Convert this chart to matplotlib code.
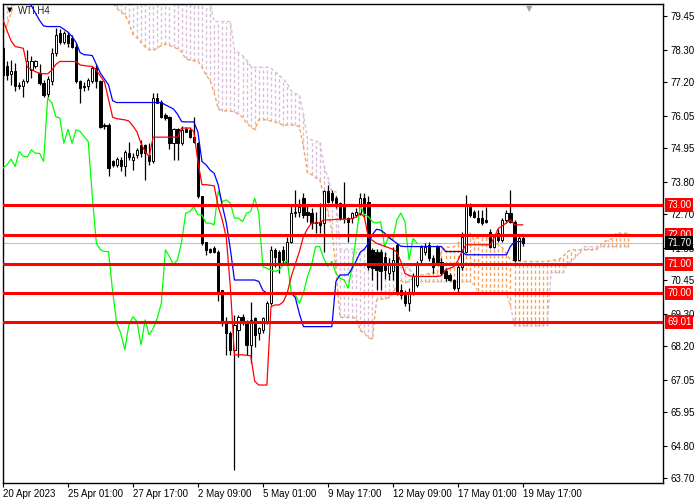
import numpy as np
import matplotlib
matplotlib.use("Agg")
import matplotlib.pyplot as plt
from matplotlib.transforms import blended_transform_factory

plt.rcParams['font.family'] = ['Liberation Sans', 'DejaVu Sans']

# ---------------- data ----------------
symbol_label = "WTI,H4"
time_labels = ["20 Apr 2023", "25 Apr 01:00", "27 Apr 17:00", "2 May 09:00", "5 May 01:00",
               "9 May 17:00", "12 May 09:00", "17 May 01:00", "19 May 17:00"]
time_label_bars = [0, 16, 32, 48, 64, 80, 96, 112, 128]
price_ticks = [79.45, 78.30, 77.20, 76.05, 74.95, 73.80, 72.70, 71.55, 70.45,
               69.30, 68.20, 67.05, 65.95, 64.80, 63.70]
levels = [73.00, 72.00, 71.00, 70.00, 69.01]
last_price = 71.70

opens = [78.35, 77.73, 77.48, 77.56, 77.05, 77.07, 77.22, 77.61, 77.73, 77.50,
         77.16, 76.80, 77.22, 78.18, 78.86, 78.58, 78.80, 78.70, 78.40, 77.22,
         77.05, 77.05, 77.22, 77.67, 77.22, 75.74, 75.74, 74.49, 74.38, 74.55,
         74.32, 74.77, 74.55, 74.72, 75.06, 75.06, 74.72, 74.49, 76.65, 76.53,
         76.08, 76.02, 75.11, 75.59, 75.11, 75.59, 75.55, 75.34, 75.11, 73.30,
         71.73, 71.50, 71.53, 71.42, 70.12, 68.98, 68.64, 68.07, 68.75, 69.20,
         69.03, 68.24, 69.15, 68.64, 68.75, 69.00, 69.66, 71.48, 71.42, 71.48,
         71.02, 71.76, 72.73, 72.78, 73.24, 72.78, 72.73, 72.44, 72.44, 72.39,
         73.47, 73.41, 73.24, 73.07, 73.00, 72.56, 72.56, 72.67, 72.73, 73.24,
         73.12, 71.48, 71.42, 71.42, 71.25, 70.68, 70.74, 71.65, 70.12, 70.00,
         69.66, 70.00, 70.28, 71.14, 71.42, 71.65, 71.19, 71.59, 71.08, 70.74,
         70.62, 70.45, 70.17, 70.91, 71.42, 73.00, 72.78, 72.56, 72.56, 72.50,
         72.10, 71.59, 72.05, 71.82, 72.50, 72.73, 72.44, 71.14, 71.87]
highs = [78.60, 77.90, 77.95, 77.84, 77.20, 77.30, 78.30, 78.10, 77.95, 77.80,
         77.27, 77.40, 78.35, 79.03, 79.00, 78.95, 78.90, 78.80, 78.52, 77.27,
         77.20, 77.33, 77.73, 77.78, 77.27, 75.80, 75.80, 74.55, 74.65, 74.66,
         74.89, 75.17, 74.77, 74.95, 75.23, 75.10, 75.12, 76.82, 76.82, 76.60,
         76.15, 76.05, 75.63, 75.63, 75.70, 75.68, 75.68, 76.02, 75.17, 73.32,
         71.76, 71.55, 71.60, 71.48, 70.12, 69.20, 68.70, 69.26, 69.26, 69.30,
         69.10, 69.71, 69.20, 68.86, 69.20, 69.75, 71.60, 71.53, 71.48, 71.60,
         71.90, 72.96, 73.52, 73.20, 73.40, 72.96, 72.90, 72.78, 73.07, 73.52,
         73.69, 73.52, 73.30, 73.12, 73.80, 72.61, 72.78, 72.90, 73.41, 73.41,
         73.30, 71.53, 71.50, 71.50, 71.40, 71.20, 71.59, 71.70, 70.30, 70.12,
         70.17, 70.68, 71.10, 71.65, 71.70, 71.76, 71.30, 71.65, 71.20, 70.85,
         70.68, 70.50, 71.00, 72.10, 73.35, 73.07, 72.85, 72.84, 72.84, 72.95,
         72.20, 71.98, 72.20, 72.56, 72.85, 73.52, 72.50, 71.98, 71.95]
lows = [77.30, 77.27, 77.10, 76.90, 76.95, 76.70, 77.16, 77.33, 77.67, 77.10,
        76.70, 76.70, 77.10, 78.10, 78.50, 78.50, 78.40, 78.35, 77.16, 76.48,
        76.88, 76.93, 77.16, 77.00, 75.63, 75.60, 73.98, 74.30, 74.30, 74.15,
        73.98, 74.55, 74.20, 74.60, 74.66, 73.87, 74.38, 74.43, 76.48, 75.97,
        75.90, 74.90, 74.55, 74.55, 75.05, 75.48, 75.28, 75.11, 73.24, 71.65,
        71.31, 71.38, 71.38, 69.72, 68.87, 67.90, 67.90, 63.97, 67.84, 68.90,
        67.90, 67.61, 68.18, 68.41, 68.64, 68.95, 69.60, 70.90, 70.68, 71.00,
        70.95, 71.70, 72.60, 72.60, 72.55, 72.44, 72.20, 72.05, 72.05, 71.42,
        73.07, 73.07, 72.90, 72.50, 72.39, 71.76, 72.40, 72.60, 72.67, 72.56,
        70.80, 70.45, 70.10, 70.10, 70.50, 70.45, 70.45, 69.95, 69.80, 69.55,
        69.38, 69.95, 70.20, 71.00, 71.30, 71.10, 70.70, 71.00, 70.62, 70.40,
        70.40, 70.10, 70.00, 70.80, 71.36, 72.61, 72.55, 72.39, 72.33, 72.40,
        71.53, 71.53, 71.76, 71.76, 72.40, 72.39, 71.08, 71.14, 71.60]
closes = [77.44, 77.44, 77.56, 77.05, 77.05, 77.24, 77.90, 77.92, 77.90, 77.16,
          76.76, 77.30, 78.18, 78.80, 78.58, 78.86, 78.52, 78.40, 77.22, 76.99,
          77.02, 77.27, 77.67, 77.22, 75.68, 75.70, 74.26, 74.38, 74.57, 74.32,
          74.83, 74.66, 74.65, 74.89, 74.77, 74.77, 74.49, 76.65, 76.50, 76.02,
          75.97, 75.11, 75.59, 75.11, 75.57, 75.51, 75.34, 75.17, 73.30, 71.70,
          71.48, 71.42, 71.42, 70.06, 68.98, 68.64, 68.07, 68.92, 69.20, 69.03,
          68.24, 69.09, 68.58, 68.80, 69.15, 69.66, 71.48, 71.25, 70.97, 71.14,
          71.76, 72.73, 72.78, 72.95, 72.67, 72.67, 72.39, 72.39, 72.33, 73.47,
          73.12, 73.18, 73.07, 72.56, 72.56, 72.44, 72.73, 72.78, 73.24, 72.73,
          70.90, 70.85, 70.79, 70.74, 70.79, 70.97, 71.14, 70.00, 69.94, 69.66,
          70.00, 70.57, 70.97, 71.59, 71.59, 71.19, 70.91, 71.08, 70.68, 70.51,
          70.45, 70.17, 70.91, 71.93, 73.00, 72.67, 72.61, 72.44, 72.39, 72.44,
          71.59, 71.93, 71.82, 72.50, 72.73, 72.44, 71.14, 71.87, 71.70]

# Ichimoku lines (one value per bar)
tenkan = [79.32, 78.95, 78.60, 78.41, 78.38, 78.35, 77.70, 77.63, 77.55, 77.50,
          77.48, 77.48, 77.60, 77.80, 77.90, 77.90, 77.90, 77.90, 77.90, 77.78,
          77.76, 77.74, 77.73, 77.60, 77.40, 77.20, 76.60, 76.00, 75.95, 75.93,
          75.91, 75.87, 75.70, 75.50, 75.10, 74.83, 74.66, 75.32, 75.32, 75.32,
          75.32, 75.32, 75.32, 75.32, 75.63, 75.63, 75.63, 75.51, 74.50, 73.70,
          73.70, 73.68, 73.66, 72.96, 72.50, 71.90, 70.20, 67.90, 67.90, 67.90,
          67.88, 67.87, 67.00, 66.87, 66.87, 66.87, 69.54, 69.60, 69.60, 69.70,
          70.00, 70.57, 71.00, 71.42, 71.93, 72.20, 72.39, 72.39, 72.40, 72.50,
          72.50, 72.50, 72.52, 72.52, 72.52, 72.52, 72.55, 72.60, 72.73, 72.60,
          71.90, 71.80, 71.70, 71.65, 71.60, 71.55, 71.50, 71.40, 71.08, 70.68,
          70.60, 70.57, 70.57, 70.57, 70.57, 70.57, 70.57, 70.57, 70.60, 70.80,
          70.85, 70.90, 71.10, 71.40, 71.65, 71.65, 71.65, 71.65, 71.65, 71.65,
          71.65, 71.90, 72.21, 72.30, 72.40, 72.50, 72.33, 72.33, 72.33]
kijun = [80.90, 80.88, 80.84, 80.75, 80.62, 80.10, 79.95, 79.80, 79.55, 79.30,
         79.11, 79.09, 79.09, 79.09, 79.09, 79.00, 78.90, 78.75, 78.55, 78.20,
         78.13, 78.12, 78.10, 77.80, 77.50, 77.30, 77.10, 76.56, 76.50, 76.50,
         76.50, 76.50, 76.50, 76.50, 76.50, 76.50, 76.50, 76.50, 76.50, 76.50,
         76.42, 76.35, 76.28, 76.10, 75.85, 75.84, 75.84, 75.84, 75.50, 74.49,
         74.38, 74.20, 74.09, 73.70, 73.00, 72.40, 71.50, 70.45, 70.45, 70.45,
         70.45, 70.45, 70.45, 70.40, 70.10, 70.00, 70.00, 70.00, 70.00, 70.00,
         70.00, 70.00, 69.85, 69.30, 68.86, 68.86, 68.86, 68.86, 68.86, 68.86,
         68.86, 68.86, 70.40, 70.62, 70.62, 70.63, 70.85, 71.10, 71.40, 71.50,
         71.70, 72.00, 72.18, 72.15, 72.05, 71.90, 71.80, 71.70, 71.60, 71.59,
         71.59, 71.59, 71.59, 71.59, 71.59, 71.59, 71.59, 71.59, 71.59, 71.42,
         71.42, 71.42, 71.42, 71.42, 71.31, 71.31, 71.31, 71.31, 71.31, 71.31,
         71.31, 71.31, 71.31, 71.31, 71.31, 71.60, 71.76, 71.76, 71.76]
# leading spans before the first visible bar's own data (NaN = off chart)
span_a_early = [78.86, 79.15, 79.55, 80.00] + [np.nan] * 22
span_b_early = ([79.90] * 52 +
                [79.26, 79.26, 79.26, 79.26, 79.26, 78.30, 78.20, 78.10, 77.95, 77.73,
                 77.70, 77.70, 77.70, 77.70, 77.67, 77.55, 77.44, 77.30, 77.16, 76.90,
                 76.80, 76.76, 76.10, 75.25, 75.23])

# ---------------- figure ----------------
W, H = 700, 500
fig = plt.figure(figsize=(W / 100, H / 100), dpi=100)
fig.patch.set_facecolor('white')
ax_left, ax_right, ax_top, ax_bot = 3, 663, 4, 483
ax = fig.add_axes([ax_left / W, 1 - ax_bot / H, (ax_right - ax_left) / W, (ax_bot - ax_top) / H])

o = np.array(opens); h = np.array(highs); l = np.array(lows); c = np.array(closes)
n = len(c)
idx = np.arange(n)

# Ichimoku cloud
shift = 26
m = n + shift
t = np.array(tenkan); k = np.array(kijun)
span_a = np.full(m, np.nan)
span_a[:shift] = span_a_early
span_a[shift:] = (t + k) / 2
span_b = np.full(m, np.nan)
span_b[:len(span_b_early)] = span_b_early
for j in range(len(span_b_early), m):
    s, e = j - 77, j - 25
    span_b[j] = (h[s:e].max() + l[s:e].min()) / 2
jj = np.arange(m)
valid = ~np.isnan(span_a) & ~np.isnan(span_b)
lo = np.minimum(span_a, span_b)
hi = np.maximum(span_a, span_b)
sandy, thistle = '#f4a460', '#d8bfd8'
cols = np.where(span_a > span_b, sandy, thistle)
dot = (0, (2.4, 1.8))
ax.vlines(jj[valid], lo[valid], hi[valid], colors=list(cols[valid]), linestyles=[dot],
          lw=1.0, zorder=1)
ax.plot(jj, span_a, color=sandy, ls=dot, lw=1.0, zorder=1.2)
ax.plot(jj, span_b, color=thistle, ls=dot, lw=1.0, zorder=1.2)

# current price line
ax.axhline(last_price, color='#c0c0c0', lw=0.8, zorder=0.8)

# candles
up = c > o
ax.vlines(idx, l, h, color='black', lw=0.9, zorder=3)
body_lo = np.minimum(o, c)
body_h = np.maximum(np.abs(c - o), 0.035)
ax.bar(idx[up], body_h[up], bottom=body_lo[up], width=0.55, facecolor='white',
       edgecolor='black', lw=0.7, zorder=4)
ax.bar(idx[~up], body_h[~up], bottom=body_lo[~up], width=0.55, facecolor='black',
       edgecolor='black', lw=0.7, zorder=4)

# indicator lines
ax.plot(idx[shift:] - shift, c[shift:], color='#00ff00', lw=0.9, zorder=5)
ax.plot(idx, t, color='#ff0000', lw=0.9, zorder=5)
ax.plot(idx, k, color='#0000ff', lw=0.9, zorder=5)

# horizontal levels
for lv in levels:
    ax.axhline(lv, color='#ff0000', lw=2.2, zorder=6)

px_per_bar = 4.06
ax.set_xlim(0, (ax_right - ax_left) / px_per_bar)
ppu = 462 / 15.75
y_top = 79.45 + (16 - ax_top) / ppu
y_bot = 63.70 - (ax_bot - 478) / ppu
ax.set_ylim(y_bot, y_top)

# axes styling
for sp in ax.spines.values():
    sp.set_color('black'); sp.set_linewidth(1.0)
ax.yaxis.tick_right()
ax.set_yticks(price_ticks)
ax.set_yticklabels([f"{v:.2f}" for v in price_ticks])
ax.tick_params(axis='y', direction='out', length=3, width=0.8, pad=2.5, labelsize=7, colors='black')
ax.set_xticks(time_label_bars)
ax.set_xticklabels(time_labels)
for lab in ax.get_xticklabels():
    lab.set_horizontalalignment('left')
ax.tick_params(axis='x', direction='out', length=3, width=0.8, pad=1.5, labelsize=7, colors='black')

# right-side price boxes
tr = blended_transform_factory(ax.transAxes, ax.transData)
x_box = 1 + 4 / (ax_right - ax_left)
for lv in levels:
    ax.text(x_box, lv, f"{lv:.2f}", transform=tr, ha='left', va='center', color='white',
            fontsize=7, clip_on=False, zorder=10,
            bbox=dict(boxstyle='square,pad=0.2', fc='#ff0000', ec='none'))
ax.text(x_box, last_price, f"{last_price:.2f}", transform=tr, ha='left', va='center',
        color='white', fontsize=7, clip_on=False, zorder=10,
        bbox=dict(boxstyle='square,pad=0.2', fc='black', ec='none'))

# symbol label
ax.text(7 / 660, 1 - 6.5 / 479, "\u25BC", transform=ax.transAxes, ha='center', va='center',
        fontsize=5, color='black', family=['DejaVu Sans'])
ax.text(15 / 660, 1 - 6.5 / 479, symbol_label, transform=ax.transAxes, ha='left', va='center',
        fontsize=7, color='#202020')
# chart shift marker
ax.text((529 - ax_left) / 660, 1.0, "\u25BC", transform=ax.transAxes, ha='center', va='top',
        fontsize=6, color='#a0a0a0', family=['DejaVu Sans'], clip_on=False)

fig.savefig('out.png', dpi=100, facecolor='white')
